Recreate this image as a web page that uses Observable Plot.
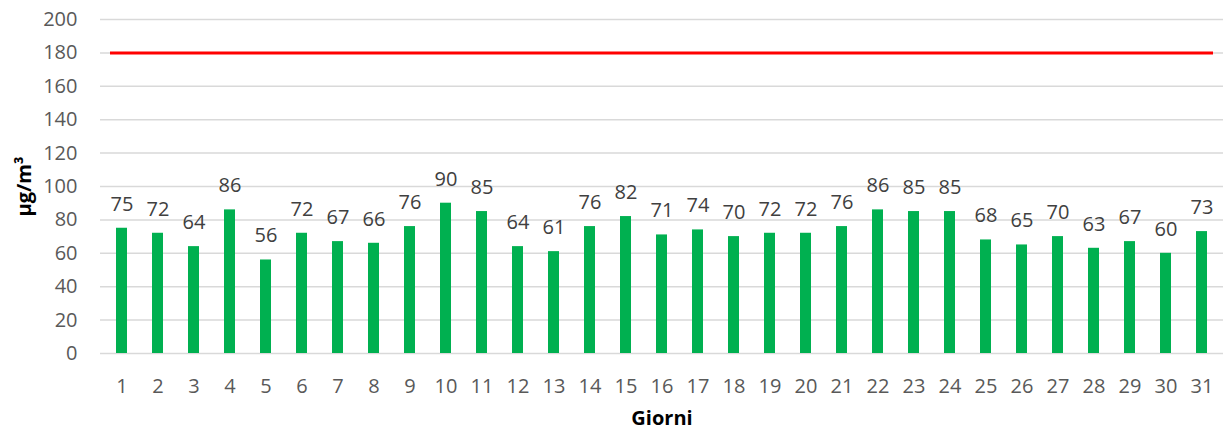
<!DOCTYPE html>
<html>
<head>
<meta charset="utf-8">
<script src="https://cdn.jsdelivr.net/npm/d3@7"></script>
<script src="https://cdn.jsdelivr.net/npm/@observablehq/plot@0.6"></script>
<style>
  html, body { margin: 0; padding: 0; background: #fff; }
  #chart svg { display: block; }
  g[aria-label="y-axis label"] text, g[aria-label="x-axis label"] text { font-weight: bold; fill: #000; }
</style>
</head>
<body>
<div id="chart"></div>
<script>
const days = d3.range(1, 32).map(String);
const values = [75,72,64,86,56,72,67,66,76,90,85,64,61,76,82,71,74,70,72,72,76,86,85,85,68,65,70,63,67,60,73];
const limit = [180];
const yTicks = [0,20,40,60,80,100,120,140,160,180,200];
const yLabel = "µg/m³";
const xLabel = "Giorni";

const data = days.map((d, i) => ({day: d, value: values[i]}));

const chart = Plot.plot({
  width: 1223,
  height: 433,
  marginLeft: 100,
  marginRight: 0,
  marginTop: 19,
  marginBottom: 80,
  style: {fontFamily: "'Open Sans', sans-serif", fontSize: "20px", color: "#595959", background: "#fff"},
  x: {domain: days, paddingInner: 0.705, paddingOuter: 0.3525},
  y: {domain: [0, 200]},
  marks: [
    Plot.gridY(yTicks, {stroke: "#d9d9d9", strokeOpacity: 1, strokeWidth: 1.5}),
    Plot.axisY(yTicks, {tickSize: 0, tickPadding: 23, fontSize: 20, label: yLabel, labelAnchor: "center", labelArrow: "none", labelOffset: 84, fill: "#595959"}),
    Plot.axisX({tickSize: 0, tickPadding: 25, fontSize: 20, label: xLabel, labelAnchor: "center", labelArrow: "none", labelOffset: 71, fill: "#595959"}),
    Plot.barY(data, {x: "day", y: "value", fill: "#00b050"}),
    Plot.text(data, {x: "day", y: "value", text: d => String(d.value), dy: -24, fill: "#404040", fontSize: 20}),
    Plot.ruleY(limit, {stroke: "#ff0000", strokeWidth: 3, insetLeft: 10, insetRight: 10})
  ]
});
document.getElementById("chart").appendChild(chart);
</script>
</body>
</html>
